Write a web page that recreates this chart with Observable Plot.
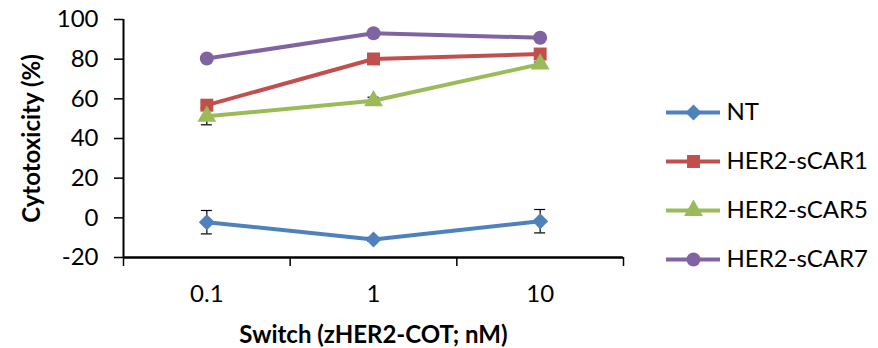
<!DOCTYPE html>
<html>
<head>
<meta charset="utf-8">
<script src="https://cdn.jsdelivr.net/npm/d3@7"></script>
<script src="https://cdn.jsdelivr.net/npm/@observablehq/plot@0.6"></script>
<style>
  html, body { margin: 0; padding: 0; background: #fff; }
  #wrap { display: flex; width: 878px; height: 348px; }
</style>
</head>
<body>
<div id="wrap"></div>
<script>
// ---- data ----
const categories = ["0.1", "1", "10"];
const seriesNames = ["NT", "HER2-sCAR1", "HER2-sCAR5", "HER2-sCAR7"];
const ntValues    = [-2.2, -10.9, -1.7];
const ntErrors    = [5.9, 1.0, 5.9];
const sCAR1Values = [56.8, 80.1, 82.6];
const sCAR1Errors = [1.5, 1.0, 1.0];
const sCAR5Values = [51.2, 59.0, 77.5];
const sCAR5Errors = [4.3, 1.8, 1.0];
const sCAR7Values = [80.3, 93.1, 90.8];
const sCAR7Errors = [1.0, 1.0, 1.0];
const yTicks = [-20, 0, 20, 40, 60, 80, 100];
const xTitle = "Switch (zHER2-COT; nM)";
const yTitle = "Cytotoxicity (%)";

// ---- styles ----
const colors  = ["#4F81BD", "#C0504D", "#9BBB59", "#8064A2"];
const symbols = ["diamond2", "square", "triangle", "circle"];
const radii   = [7.2, 7.3, 7.0, 7.0];
const font = "Lato, 'Open Sans', sans-serif";
const fs = 24;

const valuesBySeries = [ntValues, sCAR1Values, sCAR5Values, sCAR7Values];
const errorsBySeries = [ntErrors, sCAR1Errors, sCAR5Errors, sCAR7Errors];

const data = seriesNames.flatMap((s, si) =>
  categories.map((c, ci) => ({
    series: s, si, xi: ci, cat: c,
    value: valuesBySeries[si][ci],
    err: errorsBySeries[si][ci]
  }))
);

const capHalf = 0.033; // error-bar cap half width in band units
const xDomain = [-0.5, categories.length - 0.5];
const yDomain = [-20, 100];
const boundaries = d3.range(categories.length + 1).map(i => i - 0.5);

const main = Plot.plot({
  width: 640,
  height: 348,
  marginLeft: 123,
  marginRight: 17,
  marginTop: 19,
  marginBottom: 91,
  style: { fontFamily: font, fontSize: fs + "px", color: "#000", background: "#fff", overflow: "visible" },
  x: { domain: xDomain },
  y: { domain: yDomain },
  marks: [
    Plot.axisY({ ticks: yTicks, tickSize: 9, tickPadding: 16, tickFormat: d => String(d), label: null, fontSize: fs, strokeWidth: 1.5 }),
    Plot.axisX({ ticks: boundaries, tickSize: 9, tickFormat: () => "", label: null, strokeWidth: 1.5 }),
    Plot.axisX({ ticks: d3.range(categories.length), tickSize: 0, tickPadding: 27, tickFormat: i => categories[i], label: null, fontSize: fs }),
    Plot.ruleX([xDomain[0]], { stroke: "#000", strokeWidth: 2 }),
    Plot.ruleY([yDomain[0]], { stroke: "#000", strokeWidth: 2.5 }),
    Plot.line(data, { x: "xi", y: "value", z: "series", stroke: d => colors[d.si], strokeWidth: 4 }),
    Plot.ruleX(data, { x: "xi", y1: d => d.value - d.err, y2: d => d.value + d.err, stroke: "#000", strokeWidth: 1.2 }),
    Plot.ruleY(data, { y: d => d.value - d.err, x1: d => d.xi - capHalf, x2: d => d.xi + capHalf, stroke: "#000", strokeWidth: 1.2 }),
    Plot.ruleY(data, { y: d => d.value + d.err, x1: d => d.xi - capHalf, x2: d => d.xi + capHalf, stroke: "#000", strokeWidth: 1.2 }),
    ...seriesNames.map((s, si) =>
      Plot.dot(data.filter(d => d.si === si), { x: "xi", y: "value", symbol: symbols[si], r: radii[si], fill: colors[si], stroke: "none" })
    ),
    Plot.text([xTitle], { frameAnchor: "bottom", dy: 78, lineAnchor: "middle", fontWeight: "bold", fontSize: fs, fill: "#000" }),
    Plot.text([yTitle], { frameAnchor: "left", dx: -91, rotate: -90, textAnchor: "middle", lineAnchor: "middle", fontWeight: "bold", fontSize: fs, fill: "#000" })
  ]
});

const legend = Plot.plot({
  width: 238,
  height: 348,
  marginLeft: 26,
  marginRight: 158,
  marginTop: 112,
  marginBottom: 89,
  style: { fontFamily: font, fontSize: fs + "px", color: "#000", background: "#fff", overflow: "visible" },
  y: { type: "point", domain: seriesNames, padding: 0, axis: null },
  marks: [
    Plot.tickY(seriesNames, { y: d => d, stroke: (d, i) => colors[i], strokeWidth: 4 }),
    ...seriesNames.map((s, si) =>
      Plot.dot([s], { y: d => d, frameAnchor: "middle", symbol: symbols[si], r: radii[si], fill: colors[si], stroke: "none" })
    ),
    Plot.text(seriesNames, { y: d => d, frameAnchor: "right", dx: 6, textAnchor: "start", fontSize: fs, fill: "#000" })
  ]
});

document.getElementById("wrap").append(main, legend);
</script>
</body>
</html>
